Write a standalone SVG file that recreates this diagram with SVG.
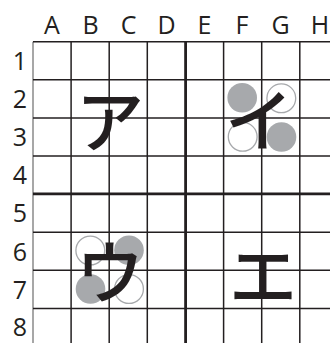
<svg xmlns="http://www.w3.org/2000/svg" width="330" height="343" viewBox="0 0 330 343">
<style>
.lbl{font-family:"Open Sans","Noto Sans",sans-serif;font-weight:400;font-size:25px;fill:#231f20;text-anchor:middle}
.g{stroke:#231f20;stroke-width:1.5;fill:none}
.gt{stroke:#231f20;stroke-width:2.8;fill:none}
.on{fill:#a7a9ac}
.off{fill:#fff;stroke:#a7a9ac;stroke-width:1.3}
.kana{font-family:"Noto Sans CJK JP","Noto Sans CJK SC",sans-serif;font-weight:500;font-size:68px;fill:#231f20;text-anchor:middle;dominant-baseline:central}
</style>
<rect width="330" height="343" fill="#fff"/>
<g id="labels">
<text class="lbl" x="52" y="34">A</text>
<text class="lbl" x="90.5" y="34">B</text>
<text class="lbl" x="128.5" y="34">C</text>
<text class="lbl" x="166.5" y="34">D</text>
<text class="lbl" x="204.5" y="34">E</text>
<text class="lbl" x="242" y="34">F</text>
<text class="lbl" x="280.5" y="34">G</text>
<text class="lbl" x="320" y="34">H</text>
<text class="lbl" x="20" y="70">1</text>
<text class="lbl" x="20" y="108.1">2</text>
<text class="lbl" x="20" y="146.2">3</text>
<text class="lbl" x="20" y="184.3">4</text>
<text class="lbl" x="20" y="222.4">5</text>
<text class="lbl" x="20" y="260.5">6</text>
<text class="lbl" x="20" y="298.6">7</text>
<text class="lbl" x="20" y="336.3">8</text>
</g>
<g id="grid">
<line x1="33" y1="41.7" x2="33" y2="343" stroke="#8a8a8a" stroke-width="1.5"/>
<line class="g" x1="71.1" y1="41.7" x2="71.1" y2="343"/>
<line class="g" x1="109.2" y1="41.7" x2="109.2" y2="343"/>
<line class="g" x1="147.3" y1="41.7" x2="147.3" y2="343"/>
<line class="gt" x1="185.6" y1="41.7" x2="185.6" y2="343"/>
<line class="g" x1="223.6" y1="41.7" x2="223.6" y2="343"/>
<line class="g" x1="261.7" y1="41.7" x2="261.7" y2="343"/>
<line class="g" x1="299.8" y1="41.7" x2="299.8" y2="343"/>
<line class="g" x1="33" y1="41.7" x2="330" y2="41.7"/>
<line class="g" x1="33" y1="79.8" x2="330" y2="79.8"/>
<line class="g" x1="33" y1="117.9" x2="330" y2="117.9"/>
<line class="g" x1="33" y1="156" x2="330" y2="156"/>
<line class="gt" x1="33" y1="193.8" x2="330" y2="193.8"/>
<line class="g" x1="33" y1="232.2" x2="330" y2="232.2"/>
<line class="g" x1="33" y1="270.3" x2="330" y2="270.3"/>
<line class="g" x1="33" y1="308.4" x2="330" y2="308.4"/>
</g>
<g id="stones">
<circle class="on" cx="242.2" cy="97.8" r="14.8"/>
<circle class="off" cx="281.3" cy="98.3" r="14.4"/>
<circle class="off" cx="242.7" cy="136.8" r="14.4"/>
<circle class="on" cx="281.5" cy="137" r="14.8"/>
<circle class="off" cx="90.3" cy="250.5" r="14.4"/>
<circle class="on" cx="129" cy="250.3" r="14.8"/>
<circle class="on" cx="90.5" cy="289" r="14.8"/>
<circle class="off" cx="129" cy="289" r="14.4"/>
</g>
<g id="kana">
<text class="kana" x="110" y="117.5">ア</text>
<text class="kana" x="259" y="116.5">イ</text>
<text class="kana" x="110" y="268">ウ</text>
<text class="kana" x="263" y="271">エ</text>
</g>
</svg>
